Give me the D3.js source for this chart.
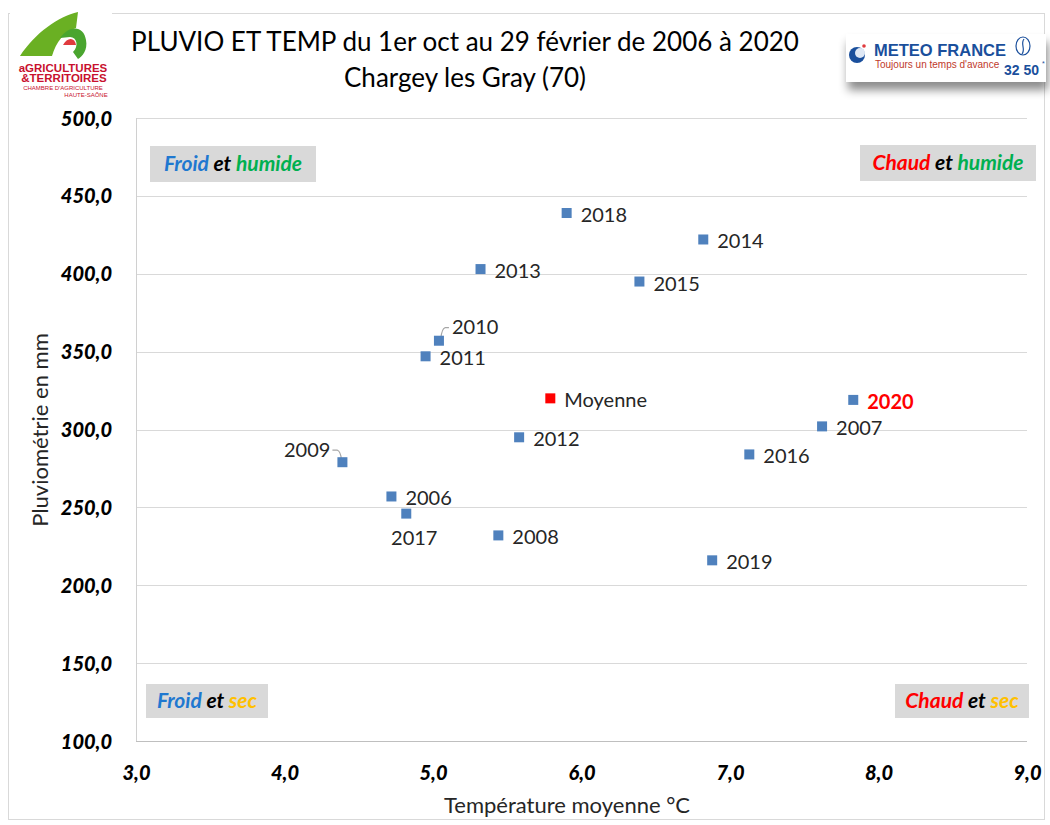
<!DOCTYPE html>
<html><head><meta charset="utf-8">
<script src="https://cdn.jsdelivr.net/npm/d3@7"></script>
<style>
body{margin:0;background:#fff;}
svg{display:block;font-family:Lato,"Open Sans",sans-serif;}
</style></head>
<body><svg id="c" width="1050" height="825"></svg>
<script>
// ---- data ----
const years = ["2018","2014","2013","2015","2010","2011","2020","2007","2012","2016","2009","2006","2017","2008","2019"];
const temps = [5.90,6.82,5.32,6.39,5.04,4.95,7.83,7.62,5.58,7.13,4.39,4.72,4.82,5.44,6.88];
const rain  = [439,422,403,395,357,347,319,302,295,284,279,257,246,232,216];
const meanLabel = "Moyenne";
const meanTemp = 5.79, meanRain = 320;
const xTicks = [3,4,5,6,7,8,9];
const yTicks = [100,150,200,250,300,350,400,450,500];
const quadrants = [
  {pos:"tl", parts:[["Froid","#1f78d0"],[" et ","#000"],["humide","#00b050"]]},
  {pos:"tr", parts:[["Chaud","#ff0000"],[" et ","#000"],["humide","#00b050"]]},
  {pos:"bl", parts:[["Froid","#1f78d0"],[" et ","#000"],["sec","#ffc000"]]},
  {pos:"br", parts:[["Chaud","#ff0000"],[" et ","#000"],["sec","#ffc000"]]}
];

// ---- layout ----
const svg = d3.select("#c");
const L=136, R=1027, T=118, B=741;
const x = d3.scaleLinear().domain([3,9]).range([L,R]);
const y = d3.scaleLinear().domain([100,500]).range([B,T]);
const fmt = v => d3.format(".1f")(v).replace(".", ",");

// outer frame
svg.append("rect").attr("x",8.5).attr("y",13.5).attr("width",1036).attr("height",806)
  .attr("fill","none").attr("stroke","#d9d9d9");

// gridlines
svg.append("g").selectAll("line").data(yTicks.filter(v=>v>100)).join("line")
  .attr("x1",L).attr("x2",R).attr("y1",d=>Math.round(y(d))+0.5).attr("y2",d=>Math.round(y(d))+0.5)
  .attr("stroke","#d9d9d9");
// axes lines
svg.append("line").attr("x1",L).attr("x2",R).attr("y1",Math.round(y(100))+0.5).attr("y2",Math.round(y(100))+0.5).attr("stroke","#bfbfbf");
svg.append("line").attr("x1",L+0.5).attr("x2",L+0.5).attr("y1",T).attr("y2",B).attr("stroke","#d0d0d0");

// tick labels via axes
const yAxis = svg.append("g").attr("transform",`translate(${L-24},0)`)
  .call(d3.axisLeft(y).tickValues(yTicks).tickFormat(fmt).tickSize(0).tickPadding(0));
yAxis.select(".domain").remove();
yAxis.selectAll("text").attr("font-family","Lato").attr("font-size",20).attr("font-weight","900")
  .attr("font-style","italic").attr("fill","#000").attr("dy","0.35em");

const xAxis = svg.append("g").attr("transform",`translate(0,${B+24})`)
  .call(d3.axisBottom(x).tickValues(xTicks).tickFormat(fmt).tickSize(0).tickPadding(0));
xAxis.select(".domain").remove();
xAxis.selectAll("text").attr("font-family","Lato").attr("font-size",20).attr("font-weight","900")
  .attr("font-style","italic").attr("fill","#000").attr("dy","0.75em");

// axis titles
svg.append("text").attr("x",567).attr("y",813).attr("text-anchor","middle")
  .attr("font-size",22).attr("fill","#262626").text("Température moyenne °C");
svg.append("text").attr("transform","translate(48,430) rotate(-90)").attr("text-anchor","middle")
  .attr("font-size",22).attr("fill","#262626").text("Pluviométrie en mm");

// title
svg.append("text").attr("x",465).attr("y",51).attr("text-anchor","middle").attr("font-size",26)
  .attr("fill","#000").text("PLUVIO ET TEMP du 1er oct au 29 février de 2006 à 2020");
svg.append("text").attr("x",465).attr("y",87).attr("text-anchor","middle").attr("font-size",26)
  .attr("fill","#000").text("Chargey les Gray (70)");

// quadrant labels
const qbox = {tl:[150,146,166,36], tr:[860,145,176,36], bl:[146,684,122,34], br:[895,684,134,34]};
quadrants.forEach(q=>{
  const [bx,by,bw,bh] = qbox[q.pos];
  svg.append("rect").attr("x",bx).attr("y",by).attr("width",bw).attr("height",bh).attr("fill","#d9d9d9");
  const t = svg.append("text").attr("x",bx+bw/2).attr("y",by+bh/2).attr("dy","0.35em")
    .attr("text-anchor","middle").attr("font-size",21).attr("font-weight","bold").attr("font-style","italic");
  q.parts.forEach(p=>t.append("tspan").attr("fill",p[1]).attr("xml:space","preserve").text(p[0]));
});

// label placement overrides (layout only)
const labelPos = {
  "2009": {dx:-12, dy:-12, anchor:"end"},
  "2010": {dx:13, dy:-14, anchor:"start"},
  "2017": {dx:8, dy:24, anchor:"middle"}
};

// leader lines
const lead = svg.append("g").attr("fill","none").attr("stroke","#a6a6a6").attr("stroke-width",1.2);
years.forEach((yr,i)=>{
  const px=x(temps[i]), py=y(rain[i]);
  if(yr==="2009") lead.append("path").attr("d",`M${px-10},${py-12} L${px-5},${py-12} Q${px-2},${py-11} ${px-1},${py-3}`);
  if(yr==="2010") lead.append("path").attr("d",`M${px+10},${py-13} L${px+6},${py-13} Q${px+3},${py-12} ${px+2},${py-3}`);
});

// points
const sz=10;
svg.append("g").selectAll("rect").data(years).join("rect")
  .attr("x",(d,i)=>x(temps[i])-sz/2).attr("y",(d,i)=>y(rain[i])-sz/2)
  .attr("width",sz).attr("height",sz)
  .attr("fill","#4f81bd");
svg.append("rect").attr("x",x(meanTemp)-sz/2).attr("y",y(meanRain)-sz/2).attr("width",sz).attr("height",sz).attr("fill","#ff0000");

// point labels
svg.append("g").selectAll("text").data(years).join("text")
  .attr("x",(d,i)=>x(temps[i])+(labelPos[d]?labelPos[d].dx:14))
  .attr("y",(d,i)=>y(rain[i])+(labelPos[d]?labelPos[d].dy:2))
  .attr("dy","0.35em")
  .attr("text-anchor",d=>labelPos[d]?labelPos[d].anchor:"start")
  .attr("font-size",20)
  .attr("font-weight",d=>d==="2020"?"bold":"normal")
  .attr("fill",d=>d==="2020"?"#ff0000":"#262626")
  .text(d=>d);
svg.append("text").attr("x",x(meanTemp)+14).attr("y",y(meanRain)+2).attr("dy","0.35em")
  .attr("font-size",20).attr("fill","#262626").text(meanLabel);

// left logo (approximation)
const lg = svg.append("g");
lg.append("rect").attr("x",10).attr("y",10).attr("width",102).attr("height",92).attr("fill","#fff");
lg.append("path").attr("d","M20,56 C36,32 58,17 78,12 L76,28 C64,32 56,42 52,56 Z").attr("fill","#6ab023");
lg.append("path").attr("d","M60,38 C70,24 84,26 86,40 C88,50 82,57 78,59 L73,52 C79,46 77,37 70,37 Z").attr("fill","#4aa52f");
lg.append("path").attr("d","M63,45 C67,37 75,37 76,45 L70,45 Z").attr("fill","#e03a3e");
lg.append("text").attr("x",63).attr("y",72).attr("text-anchor","middle").attr("font-family","Liberation Sans")
  .attr("font-size",11.5).attr("font-weight","bold").attr("fill","#c8102e").text("aGRICULTURES");
lg.append("text").attr("x",64).attr("y",82).attr("text-anchor","middle").attr("font-family","Liberation Sans")
  .attr("font-size",11.5).attr("font-weight","bold").attr("fill","#c8102e").text("&TERRITOIRES");
lg.append("text").attr("x",63).attr("y",90).attr("text-anchor","middle").attr("font-family","Liberation Sans")
  .attr("font-size",6).attr("fill","#c8102e").text("CHAMBRE D'AGRICULTURE");
lg.append("text").attr("x",86).attr("y",97).attr("text-anchor","middle").attr("font-family","Liberation Sans")
  .attr("font-size",6).attr("fill","#c8102e").text("HAUTE-SAÔNE");

// right logo (approximation)
const defs = svg.append("defs");
const f = defs.append("filter").attr("id","sh").attr("x","-10%").attr("y","-20%").attr("width","130%").attr("height","170%");
f.append("feDropShadow").attr("dx",2).attr("dy",8).attr("stdDeviation",5).attr("flood-color","#000").attr("flood-opacity",0.45);
const rg = svg.append("g");
rg.append("rect").attr("x",846).attr("y",34).attr("width",200).attr("height",48).attr("fill","#fff").attr("filter","url(#sh)");
rg.append("circle").attr("cx",857).attr("cy",55).attr("r",8).attr("fill","#1a4f9c");
rg.append("circle").attr("cx",860).attr("cy",53).attr("r",5).attr("fill","#dfe8f5");
rg.append("circle").attr("cx",864).attr("cy",46).attr("r",1.8).attr("fill","#e03a3e");
rg.append("text").attr("x",874).attr("y",56).attr("font-family","Liberation Sans").attr("font-weight","bold")
  .attr("font-size",16.5).attr("fill","#1a4f9c").text("METEO FRANCE");
rg.append("text").attr("x",875).attr("y",68).attr("font-family","Liberation Sans")
  .attr("font-size",10).attr("fill","#c0392b").text("Toujours un temps d'avance");
rg.append("ellipse").attr("cx",1023).attr("cy",46).attr("rx",7).attr("ry",9).attr("fill","none").attr("stroke","#1a4f9c").attr("stroke-width",1.2);
rg.append("path").attr("d","M1024,39 C1020,44 1026,49 1022,54").attr("fill","none").attr("stroke","#1a4f9c").attr("stroke-width",1.2);
rg.append("text").attr("x",1004).attr("y",75).attr("font-family","Liberation Sans").attr("font-weight","bold")
  .attr("font-size",14).attr("fill","#1a4f9c").text("32 50");
rg.append("text").attr("x",1042).attr("y",66).attr("font-family","Liberation Sans").attr("font-size",7).attr("fill","#1a4f9c").text("*");
</script></body></html>
